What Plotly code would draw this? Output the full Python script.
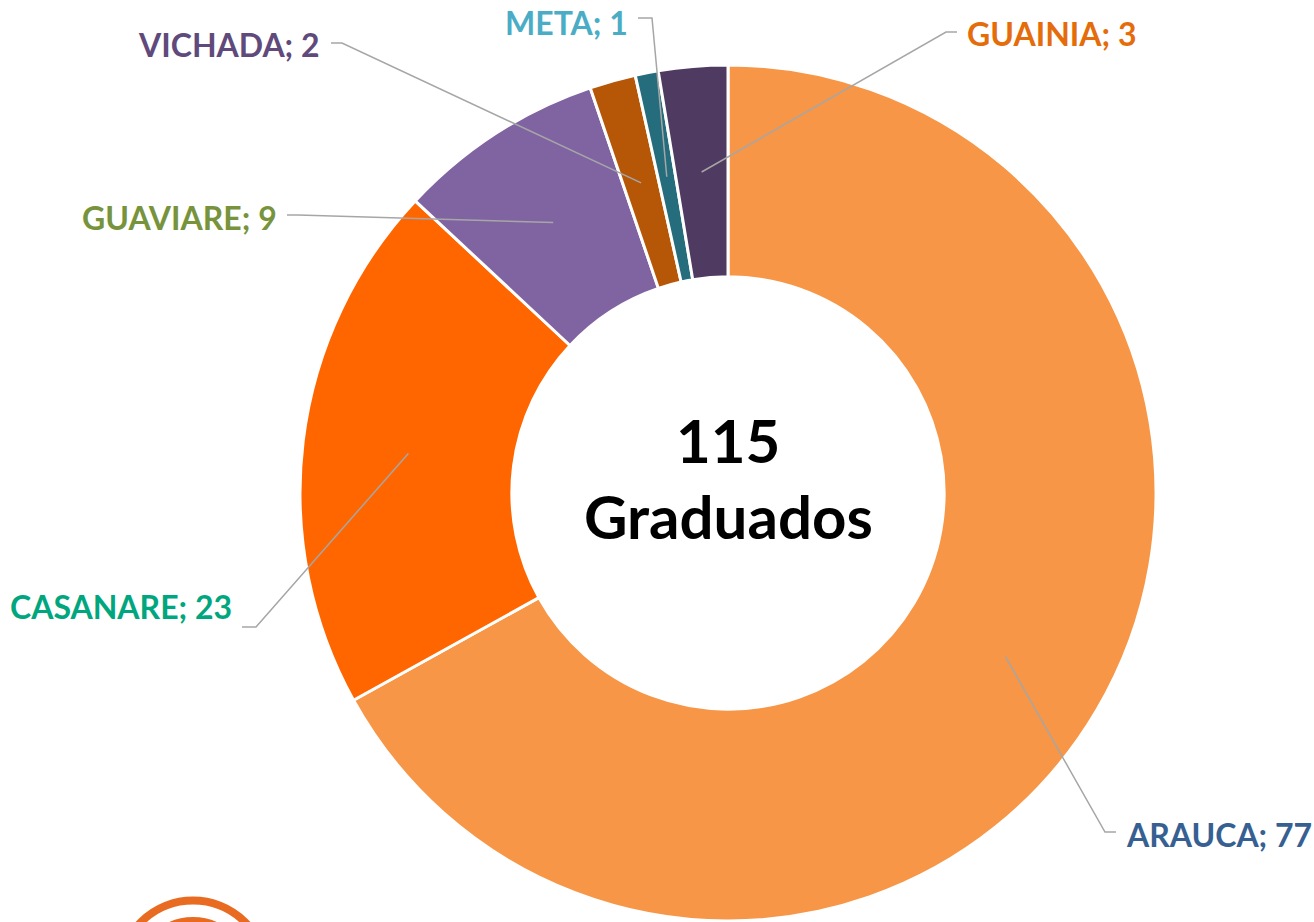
import math
import plotly.graph_objects as go

# ---- data ----
departamentos = ["ARAUCA", "CASANARE", "GUAVIARE", "VICHADA", "META", "GUAINIA"]
graduados = [77, 23, 9, 2, 1, 3]
slice_colors = ["#F79646", "#FF6600", "#8064A2", "#B65708", "#256C7D", "#4F3B62"]
label_colors = ["#366092", "#00A67E", "#77933C", "#604A7B", "#4BACC6", "#E46C0A"]
total_label = "Graduados"

# ---- layout (pixels) ----
W, H = 1314, 922
CX, CY, R_OUT = 728, 493, 428
HOLE = 0.505
FONT = "Lato"

# label layout: (text x, text y, anchor, elbow x, elbow y, horizontal end x)
label_layout = {
    "ARAUCA":   (1124, 834, "left", 1105, 832, 1116),
    "CASANARE": (234, 606, "right", 256, 627, 242),
    "GUAVIARE": (279, 217, "right", 298, 215, 287),
    "VICHADA":  (322, 44, "right", 342, 43, 331),
    "META":     (630, 22, "right", 652, 18, 638),
    "GUAINIA":  (965, 33, "left", 946, 32, 957),
}

def px(x):
    return x / W

def py(y):
    return 1 - y / H

fig = go.Figure()
fig.add_trace(go.Pie(
    labels=departamentos,
    values=graduados,
    sort=False,
    direction="clockwise",
    rotation=0,
    hole=HOLE,
    textinfo="none",
    hoverinfo="label+value",
    marker=dict(colors=slice_colors, line=dict(color="white", width=3)),
    domain=dict(x=[px(CX - R_OUT), px(CX + R_OUT)], y=[py(CY + R_OUT), py(CY - R_OUT)]),
    showlegend=False,
))

shapes = []
annotations = []
total = sum(graduados)
r_mid = R_OUT * (1 + HOLE) / 2
cum = 0
for name, val, col in zip(departamentos, graduados, label_colors):
    mid = (cum + val / 2) / total * 2 * math.pi
    cum += val
    sx = CX + r_mid * math.sin(mid)
    sy = CY - r_mid * math.cos(mid)
    tx, ty, anc, ex, ey, hx = label_layout[name]
    path = f"M {px(sx)},{py(sy)} L {px(ex)},{py(ey)} L {px(hx)},{py(ey)}"
    shapes.append(dict(type="path", xref="paper", yref="paper", path=path,
                       line=dict(color="#A6A6A6", width=1.5)))
    annotations.append(dict(
        x=px(tx), y=py(ty), xref="paper", yref="paper",
        text=f"<b>{name}; {val}</b>", showarrow=False,
        xanchor=anc, yanchor="middle",
        font=dict(family=FONT, size=32, color=col),
    ))

annotations.append(dict(x=px(CX), y=py(440), xref="paper", yref="paper",
                        text=f"<b>{total}</b>", showarrow=False,
                        xanchor="center", yanchor="middle",
                        font=dict(family=FONT, size=60, color="black")))
annotations.append(dict(x=px(CX), y=py(516), xref="paper", yref="paper",
                        text=f"<b>{total_label}</b>", showarrow=False,
                        xanchor="center", yanchor="middle",
                        font=dict(family=FONT, size=60, color="black")))

# partial logo rings at bottom-left
for r, w in [(73.5, 8), (53, 8)]:
    shapes.append(dict(type="circle", xref="paper", yref="paper",
                       x0=px(193 - r), x1=px(193 + r), y0=py(974 + r), y1=py(974 - r),
                       line=dict(color="#E96B22", width=w)))

fig.update_layout(
    width=W, height=H,
    margin=dict(l=0, r=0, t=0, b=0),
    paper_bgcolor="white", plot_bgcolor="white",
    shapes=shapes, annotations=annotations,
)
fig.write_html("out.html", config={"displayModeBar": False},
               post_script="document.body.style.margin='0px';")
